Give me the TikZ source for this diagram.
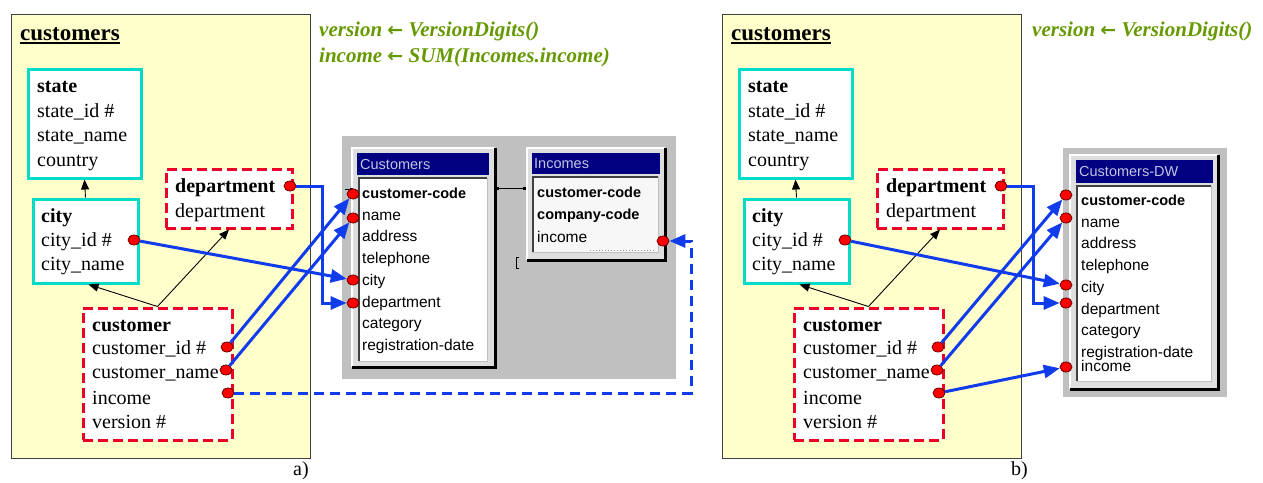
\documentclass[tikz,border=0pt]{standalone}
\usepackage{fontspec}
\setmainfont{Liberation Serif}
\setsansfont{Liberation Sans}
\newfontfamily\arrowfont{DejaVu Sans}
\usetikzlibrary{arrows.meta,shapes.geometric}

\definecolor{paneyellow}{RGB}{255,255,204}
\definecolor{entcyan}{RGB}{0,220,200}
\definecolor{entred}{RGB}{235,0,40}
\definecolor{linkblue}{RGB}{17,60,235}
\definecolor{rulegreen}{RGB}{102,153,0}
\definecolor{wingray}{RGB}{192,192,192}
\definecolor{winface}{RGB}{222,222,222}
\definecolor{titlenavy}{RGB}{0,0,128}
\definecolor{titletext}{RGB}{196,196,228}

\newcommand\getsarrow{{\arrowfont\bfseries\fontsize{19pt}{24pt}\selectfont ←}}

\tikzset{
  panelbox/.style={draw=black!75, line width=1pt, fill=paneyellow, anchor=north west, inner sep=0},
  solident/.style={draw=entcyan, line width=3pt, fill=white, anchor=north west, inner sep=0},
  dashent/.style={draw=entred, line width=3pt, fill=white, dash pattern=on 10pt off 5pt, anchor=north west, inner sep=0},
  attr/.style={anchor=base west, inner sep=0, font=\fontsize{20pt}{24pt}\selectfont},
  keyattr/.style={anchor=base west, inner sep=0, font=\fontsize{20pt}{24pt}\selectfont\bfseries},
  hdr/.style={anchor=base west, inner sep=0, font=\fontsize{23pt}{27pt}\selectfont\bfseries},
  rulet/.style={anchor=base west, inner sep=0, text=rulegreen, font=\fontsize{21pt}{25pt}\selectfont\bfseries\itshape},
  pindot/.style={ellipse, draw=black!60!red, line width=0.8pt, fill=red, minimum width=12pt, minimum height=10pt, inner sep=0},
  isa/.style={-{Triangle[length=10pt,width=8pt]}, line width=0.9pt},
  link/.style={draw=linkblue, line width=3pt, -{Triangle[length=16pt,width=13pt]}},
  retlink/.style={link, dash pattern=on 10pt off 6pt},
  winbg/.style={fill=wingray, draw=none, anchor=north west, inner sep=0},
  winouter/.style={fill=winface, draw=none, anchor=north west, inner sep=0},
  wintitle/.style={fill=titlenavy, draw=none, anchor=north west, inner sep=0},
  winlist/.style={fill=white, draw=none, anchor=north west, inner sep=0},
  wintitletxt/.style={anchor=west, inner sep=0, text=titletext, font=\sffamily\fontsize{14.5pt}{17pt}\selectfont},
  winitem/.style={anchor=base west, inner sep=0, font=\sffamily\fontsize{15.5pt}{18pt}\selectfont},
  winkey/.style={anchor=base west, inner sep=0, font=\sffamily\fontsize{14.5pt}{18pt}\selectfont\bfseries},
}

\begin{document}
\begin{tikzpicture}[x=1pt, y=-1pt]
\useasboundingbox (0,0) rectangle (1263,482);

% ---------- the two conceptual schemas ----------
\foreach \p/\dx in {a/0,b/711}{
\begin{scope}[xshift=\dx pt]
  \node[panelbox, minimum width=299pt, minimum height=444pt] (\p-panel) at (10.5,13.5) {};
  \node[hdr] (\p-hdr) at (20,40) {customers};
  \draw[line width=2pt] ([yshift=-2.5pt]\p-hdr.base west) -- ([yshift=-2.5pt]\p-hdr.base east);

  % state
  \node[solident, minimum width=113pt, minimum height=109pt] (\p-state) at (26.5,67.5) {};
  \node[keyattr] (\p-state-t0) at (37,92) {state};
  \node[attr] (\p-state-t1) at (37,117) {state\_id \#};
  \node[attr] (\p-state-t2) at (37,141) {state\_name};
  \node[attr] (\p-state-t3) at (37,166) {country};

  % city
  \node[solident, minimum width=105pt, minimum height=84pt] (\p-city) at (31.5,197.5) {};
  \node[keyattr] (\p-city-t0) at (41,222) {city};
  \node[attr] (\p-city-t1) at (41,246) {city\_id \#};
  \node[attr] (\p-city-t2) at (41,270) {city\_name};

  % department
  \node[dashent, minimum width=126pt, minimum height=59pt] (\p-dep) at (164.5,167.5) {};
  \node[keyattr] (\p-dep-t0) at (175,192) {department};
  \node[attr] (\p-dep-t1) at (175,217) {department};

  % customer
  \node[dashent, minimum width=149pt, minimum height=132pt] (\p-cust) at (81.5,306.5) {};
  \node[keyattr] (\p-cust-t0) at (92,331) {customer};
  \node[attr] (\p-cust-t1) at (92,354) {customer\_id \#};
  \node[attr] (\p-cust-t2) at (92,378) {customer\_name};
  \node[attr] (\p-cust-t3) at (92,404) {income};
  \node[attr] (\p-cust-t4) at (92,428) {version \#};

  % hierarchy arrows
  \draw[isa] (\p-city.north) -- (\p-state.south);
  \draw[isa] (\p-cust.north) -- ([xshift=3pt]\p-city.south);
  \draw[isa] (\p-cust.north) -- (\p-dep.south);

  % attribute anchors
  \node[pindot] (\p-dep-dot) at (290,186) {};
  \node[pindot] (\p-cid-dot) at (134,240) {};
  \node[pindot] (\p-cuid-dot) at (227,347) {};
  \node[pindot] (\p-cuname-dot) at (226,370) {};
  \node[pindot] (\p-inc-dot) at (228,393) {};
\end{scope}
}

% ---------- derivation rules ----------
\node[rulet] (a-rule1) at (319,36) {version \getsarrow{} VersionDigits()};
\node[rulet] (a-rule2) at (319,62) {income \getsarrow{} SUM(Incomes.income)};
\node[rulet] (b-rule1) at (1032,36) {version \getsarrow{} VersionDigits()};

\node[attr] (a-label) at (293,475) {a)};
\node[attr] (b-label) at (1011,475) {b)};

% ---------- source tables: Customers and Incomes ----------
\node[winbg, minimum width=334pt, minimum height=243pt] (src-bg) at (342,136) {};

\node[winouter, minimum width=143pt, minimum height=219pt] (cu-win) at (352,148) {};
\draw[white, line width=2pt] (cu-win.south west) |- (cu-win.north east);
\draw[black, line width=2.5pt] (cu-win.south west) -| (cu-win.north east);
\node[wintitle, minimum width=132pt, minimum height=22pt] (cu-title) at (357,153) {};
\node[wintitletxt] (cu-title-txt) at ([xshift=3pt]cu-title.west) {Customers};
\node[winlist, minimum width=128pt, minimum height=183pt] (cu-list) at (359,178) {};
\draw[black!25, line width=1pt] (cu-list.south west) -| (cu-list.north east);
\draw[black!75, line width=1.5pt] (cu-list.south west) |- (cu-list.north east);
\node[winkey]  (cu-r1) at (362,198.5) {customer-code};
\node[winitem] (cu-r2) at (362,220.2) {name};
\node[winitem] (cu-r3) at (362,241.9) {address};
\node[winitem] (cu-r4) at (362,263.6) {telephone};
\node[winitem] (cu-r5) at (362,285.3) {city};
\node[winitem] (cu-r6) at (362,307) {department};
\node[winitem] (cu-r7) at (362,328.7) {category};
\node[winitem] (cu-r8) at (362,350.4) {registration-date};

\node[winouter, minimum width=138pt, minimum height=112pt] (in-win) at (527,148) {};
\draw[white, line width=2pt] (in-win.south west) |- (in-win.north east);
\draw[black, line width=2.5pt] (in-win.south west) -| (in-win.north east);
\node[wintitle, minimum width=128pt, minimum height=21pt] (in-title) at (532,153) {};
\node[wintitletxt] (in-title-txt) at ([xshift=2pt]in-title.west) {Incomes};
\node[winlist, fill=black!3, minimum width=125pt, minimum height=75pt] (in-list) at (533,177) {};
\draw[black!25, line width=1pt] (in-list.south west) -| (in-list.north east);
\draw[black!75, line width=1.5pt] (in-list.south west) |- (in-list.north east);
\draw[black!40, dotted, line width=1pt] (590,250) -- (655,250);
\node[winkey]  (in-r1) at (537,197.5) {customer-code};
\node[winkey]  (in-r2) at (537,219.5) {company-code};
\node[winitem] (in-r3) at (537,242) {income};

% relationship line between the two tables
\coordinate (rel-a) at (496,188);
\coordinate (rel-b) at (526,188);
\draw[line width=1pt, {Square[length=3pt]}-{Square[length=3pt]}] (rel-a) -- (rel-b);
\coordinate (stub-a) at (345,189);
\coordinate (stub-b) at (353,189);
\draw[line width=1pt, -{Square[length=3pt]}] (stub-a) -- (stub-b);
\draw[line width=1pt] (519,257) -- (516,257) -- (516,268) -- (519,268);

\node[pindot] (cu-d1) at (353,194) {};
\node[pindot] (cu-d2) at (353,218) {};
\node[pindot] (cu-d3) at (353,280) {};
\node[pindot] (cu-d4) at (353,303) {};
\node[pindot] (in-d1) at (663,241) {};

% ---------- target table: Customers-DW ----------
\node[winbg, minimum width=164pt, minimum height=249pt] (dw-bg) at (1063,148) {};
\node[winouter, minimum width=148pt, minimum height=234pt] (dw-win) at (1070,155) {};
\draw[white, line width=2pt] (dw-win.south west) |- (dw-win.north east);
\draw[black, line width=2.5pt] (dw-win.south west) -| (dw-win.north east);
\node[wintitle, minimum width=137pt, minimum height=23pt] (dw-title) at (1076,160) {};
\node[wintitletxt] (dw-title-txt) at ([xshift=3pt]dw-title.west) {Customers-DW};
\node[winlist, minimum width=134pt, minimum height=195pt] (dw-list) at (1077,186) {};
\draw[black!25, line width=1pt] (dw-list.south west) -| (dw-list.north east);
\draw[black!75, line width=1.5pt] (dw-list.south west) |- (dw-list.north east);
\node[winkey]  (dw-r1) at (1081,205.5) {customer-code};
\node[winitem] (dw-r2) at (1081,227.2) {name};
\node[winitem] (dw-r3) at (1081,248.9) {address};
\node[winitem] (dw-r4) at (1081,270.6) {telephone};
\node[winitem] (dw-r5) at (1081,292.3) {city};
\node[winitem] (dw-r6) at (1081,314) {department};
\node[winitem] (dw-r7) at (1081,335.7) {category};
\node[winitem] (dw-r8) at (1081,357.4) {registration-date};
\node[winitem] (dw-r9) at (1081,371) {income};

\node[pindot] (dw-d1) at (1066,195) {};
\node[pindot] (dw-d2) at (1066,218) {};
\node[pindot] (dw-d3) at (1066,285) {};
\node[pindot] (dw-d4) at (1066,303) {};
\node[pindot] (dw-d5) at (1066,367) {};

% ---------- mappings, part a ----------
\coordinate (a-dep-bend) at (322,303);
\coordinate (a-ret) at (691,241);
\draw[link] (a-dep-dot) -| (a-dep-bend) -- (cu-d4);
\draw[link] (a-cid-dot) -- (cu-d3);
\draw[link] (a-cuid-dot) -- (cu-d1);
\draw[link] (a-cuname-dot) -- (cu-d2);
\draw[retlink] (a-inc-dot) -| (a-ret) -- (in-d1);

% ---------- mappings, part b ----------
\coordinate (b-dep-bend) at (1033,303);
\draw[link] (b-dep-dot) -| (b-dep-bend) -- (dw-d4);
\draw[link] (b-cid-dot) -- (dw-d3);
\draw[link] (b-cuid-dot) -- (dw-d1);
\draw[link] (b-cuname-dot) -- (dw-d2);
\draw[link] (b-inc-dot) -- (dw-d5);
\end{tikzpicture}
\end{document}
